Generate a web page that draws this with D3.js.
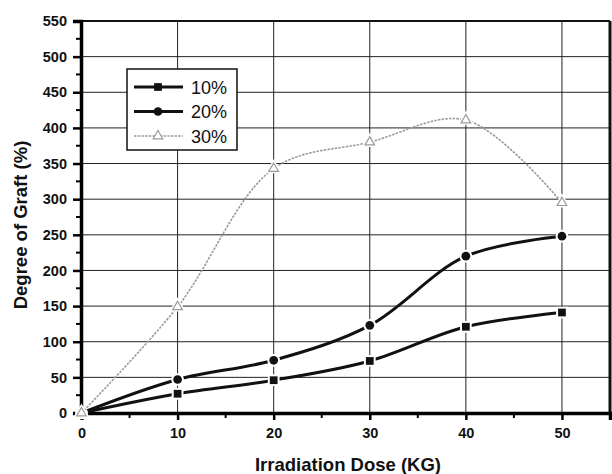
<!DOCTYPE html>
<html>
<head>
<meta charset="utf-8">
<script src="https://cdn.jsdelivr.net/npm/d3@7"></script>
<style>
  html, body { margin: 0; padding: 0; background: #fff; }
  svg { display: block; font-family: "Liberation Sans", Arial, sans-serif; }
</style>
</head>
<body>
<svg id="chart" width="612" height="474"></svg>
<script>
// Irradiation dose (kGy) vs. degree of grafting for three monomer concentrations
const doses = [0, 10, 20, 30, 40, 50];
const graft10 = [0, 27, 46, 73, 121, 141];
const graft20 = [0, 47, 74, 123, 220, 248];
const graft30 = [0, 149, 343, 380, 411, 295];
const seriesNames = ["10%", "20%", "30%"];
const xTicks = [0, 10, 20, 30, 40, 50];
const yTicks = [0, 50, 100, 150, 200, 250, 300, 350, 400, 450, 500, 550];

const svg = d3.select("#chart");
const plotL = 81, plotR = 610, plotT = 21, plotB = 413;

const x = d3.scaleLinear().domain([0, 55]).range([plotL + 0.5, plotR]);
const y = d3.scaleLinear().domain([0, 550]).range([plotB, plotT]);

// grid
const grid = svg.append("g").attr("stroke", "#222").attr("stroke-width", 1);
grid.selectAll("line.gx").data(xTicks.filter(d => d > 0)).join("line")
  .attr("x1", d => x(d)).attr("x2", d => x(d))
  .attr("y1", plotT).attr("y2", plotB);
grid.selectAll("line.gy").data(yTicks.filter(d => d > 0 && d < 550)).join("line")
  .attr("x1", plotL).attr("x2", plotR)
  .attr("y1", d => y(d)).attr("y2", d => y(d));

// frame: top and right
svg.append("line").attr("x1", plotL).attr("x2", plotR).attr("y1", plotT).attr("y2", plotT)
  .attr("stroke", "#111").attr("stroke-width", 2);
svg.append("line").attr("x1", plotR).attr("x2", plotR).attr("y1", plotT).attr("y2", plotB)
  .attr("stroke", "#111").attr("stroke-width", 3);

// axes
const xAxis = d3.axisBottom(x).tickValues(xTicks).tickSize(7).tickPadding(8).tickFormat(d3.format("d"));
const yAxis = d3.axisLeft(y).tickValues(yTicks).tickSize(8).tickPadding(6).tickFormat(d3.format("d"));

const gx = svg.append("g").attr("transform", `translate(0,${plotB})`).call(xAxis);
const gy = svg.append("g").attr("transform", `translate(${plotL},0)`).call(yAxis);

[gx, gy].forEach(g => {
  g.select(".domain").attr("stroke", "#000").attr("stroke-width", 3.5);
  g.selectAll(".tick line").attr("stroke", "#000").attr("stroke-width", 2.5);
  g.selectAll(".tick text").attr("fill", "#111").attr("font-size", 14.5).attr("font-weight", "bold");
});

// minor ticks
const xMinor = d3.range(5, 55, 10);
const yMinor = d3.range(25, 550, 50);
svg.append("g").selectAll("line").data(xMinor).join("line")
  .attr("x1", d => x(d)).attr("x2", d => x(d))
  .attr("y1", plotB).attr("y2", plotB + 5)
  .attr("stroke", "#000").attr("stroke-width", 2);
svg.append("g").selectAll("line").data(yMinor).join("line")
  .attr("x1", plotL - 5).attr("x2", plotL)
  .attr("y1", d => y(d)).attr("y2", d => y(d))
  .attr("stroke", "#000").attr("stroke-width", 2);

// axis titles
svg.append("text").attr("x", 348).attr("y", 471).attr("text-anchor", "middle")
  .attr("font-size", 18.5).attr("font-weight", "bold").attr("fill", "#111")
  .text("Irradiation Dose (KG)");
svg.append("text").attr("transform", `translate(27,${(plotT + plotB) / 2 + 8}) rotate(-90)`)
  .attr("text-anchor", "middle").attr("font-size", 18.5).attr("font-weight", "bold").attr("fill", "#111")
  .text("Degree of Graft (%)");

// series
const line = d3.line().x(d => x(d[0])).y(d => y(d[1])).curve(d3.curveCatmullRom.alpha(0.5));
const series = [
  { name: seriesNames[0], vals: graft10, color: "#111", width: 3, sym: d3.symbolSquare, symSize: 60, fill: "#111", dash: null },
  { name: seriesNames[1], vals: graft20, color: "#111", width: 3, sym: d3.symbolCircle, symSize: 60, fill: "#111", dash: null },
  { name: seriesNames[2], vals: graft30, color: "#9a9a9a", width: 1.6, sym: d3.symbolTriangle, symSize: 40, fill: "#fff", dash: "2.5,1.2" }
];

function drawMarker(sel, s) {
  // white halo leaves a small gap between the line and the symbol
  sel.append("path").attr("d", d3.symbol().type(s.sym).size(s.symSize)())
    .attr("fill", "#fff").attr("stroke", "#fff").attr("stroke-width", 4);
  sel.append("path").attr("d", d3.symbol().type(s.sym).size(s.symSize)())
    .attr("fill", s.fill).attr("stroke", s.color)
    .attr("stroke-width", s.sym === d3.symbolTriangle ? 1.2 : 0);
}

series.forEach(s => {
  const pts = doses.map((d, i) => [d, s.vals[i]]);
  svg.append("path").datum(pts).attr("d", line)
    .attr("fill", "none").attr("stroke", s.color).attr("stroke-width", s.width)
    .attr("stroke-dasharray", s.dash);
  svg.append("g").selectAll("g").data(pts).join("g")
    .attr("transform", d => `translate(${x(d[0])},${y(d[1])})`)
    .each(function () { drawMarker(d3.select(this), s); });
});

// legend
const lg = svg.append("g");
lg.append("rect").attr("x", 127).attr("y", 69).attr("width", 110).attr("height", 81)
  .attr("fill", "#fff").attr("stroke", "#111").attr("stroke-width", 1.5);
series.forEach((s, i) => {
  const ly = 87 + i * 24.5;
  lg.append("line").attr("x1", 134).attr("x2", 183).attr("y1", ly).attr("y2", ly)
    .attr("stroke", s.color).attr("stroke-width", s.width).attr("stroke-dasharray", s.dash);
  lg.append("path").attr("d", d3.symbol().type(s.sym).size(s.symSize)())
    .attr("transform", `translate(158,${ly})`)
    .attr("fill", s.fill).attr("stroke", s.color).attr("stroke-width", s.sym === d3.symbolTriangle ? 1.2 : 0);
  lg.append("text").attr("x", 191).attr("y", ly + 6.5).attr("font-size", 18).attr("fill", "#111")
    .text(s.name);
});
</script>
</body>
</html>
